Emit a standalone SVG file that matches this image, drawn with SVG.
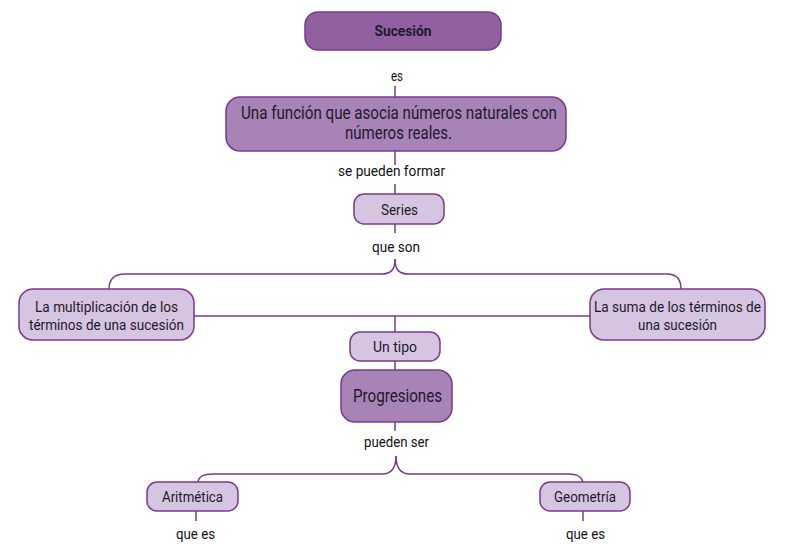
<svg xmlns="http://www.w3.org/2000/svg" width="789" height="544" viewBox="0 0 789 544">
<style>
.box{stroke:#7a3a8c;stroke-width:1.5}
.dark{fill:#9160a0}
.mid{fill:#a883b6}
.light{fill:#d6c5e0}
.t{font-family:Roboto,"Liberation Sans",sans-serif;fill:#1c1a2c;text-anchor:middle}
.lbl{font-family:Roboto,"Liberation Sans",sans-serif;fill:#111;text-anchor:middle;font-size:15px}
.c{fill:none;stroke:#7a3a8c;stroke-width:1.5}
</style>
<rect width="789" height="544" fill="#fff"/>
<g id="connectors">
<path class="c" d="M395,86 V98"/>
<path class="c" d="M395,151 V165"/>
<path class="c" d="M395,184 V194"/>
<path class="c" d="M395,224 V233"/>
<path class="c" d="M395,259 C395,270 391,274 381,274 H125 Q109,274 109,289"/>
<path class="c" d="M395,259 C395,270 399,274 409,274 H667 Q681,274 681,289"/>
<path class="c" d="M194,316 H590"/>
<path class="c" d="M395,316 V332"/>
<path class="c" d="M395,361 V370"/>
<path class="c" d="M395,422 V431"/>
<path class="c" d="M396,456 C396,468 392,474 382,474 H213 Q199,474 198,482"/>
<path class="c" d="M396,456 C396,468 400,474 410,474 H569 Q581,474 583,482"/>
<path class="c" d="M196,511 V521"/>
<path class="c" d="M583,511 V521"/>
</g>
<g id="n-sucesion">
<rect class="box dark" x="305" y="12" width="196" height="38" rx="13"/>
<text class="t" x="403" y="36" font-size="15" font-weight="bold" textLength="57" lengthAdjust="spacingAndGlyphs">Sucesión</text>
</g>
<g id="l-es"><text class="lbl" x="397" y="81" textLength="12" lengthAdjust="spacingAndGlyphs">es</text></g>
<g id="n-funcion">
<rect class="box mid" x="226" y="97" width="340" height="54" rx="14"/>
<text class="t" x="399" y="119" font-size="18" textLength="316" lengthAdjust="spacingAndGlyphs">Una función que asocia números naturales con</text>
<text class="t" x="398.5" y="139" font-size="18" textLength="107" lengthAdjust="spacingAndGlyphs">números reales.</text>
</g>
<g id="l-forman"><text class="lbl" x="391.5" y="176" textLength="107" lengthAdjust="spacingAndGlyphs">se pueden formar</text></g>
<g id="n-series">
<rect class="box light" x="354" y="194" width="90" height="30" rx="10"/>
<text class="t" x="399.5" y="215" font-size="15" textLength="37" lengthAdjust="spacingAndGlyphs">Series</text>
</g>
<g id="l-queson"><text class="lbl" x="396" y="252" textLength="48" lengthAdjust="spacingAndGlyphs">que son</text></g>
<g id="n-multiplicacion">
<rect class="box light" x="19" y="289" width="175" height="51" rx="14"/>
<text class="t" x="106.5" y="312" font-size="15.5" textLength="143" lengthAdjust="spacingAndGlyphs">La multiplicación de los</text>
<text class="t" x="106.5" y="330" font-size="15.5" textLength="155" lengthAdjust="spacingAndGlyphs">términos de una sucesión</text>
</g>
<g id="n-suma">
<rect class="box light" x="590" y="289" width="175" height="51" rx="14"/>
<text class="t" x="677.5" y="312" font-size="15.5" textLength="167" lengthAdjust="spacingAndGlyphs">La suma de los términos de</text>
<text class="t" x="677.5" y="330" font-size="15.5" textLength="79" lengthAdjust="spacingAndGlyphs">una sucesión</text>
</g>
<g id="n-untipo">
<rect class="box light" x="350" y="332" width="90" height="29" rx="10"/>
<text class="t" x="395" y="352" font-size="15.5" textLength="44" lengthAdjust="spacingAndGlyphs">Un tipo</text>
</g>
<g id="n-progresiones">
<rect class="box mid" x="341" y="370" width="111" height="52" rx="14"/>
<text class="t" x="397.5" y="402" font-size="19" textLength="89" lengthAdjust="spacingAndGlyphs">Progresiones</text>
</g>
<g id="l-puedenser"><text class="lbl" x="396.5" y="447" textLength="65" lengthAdjust="spacingAndGlyphs">pueden ser</text></g>
<g id="n-aritmetica">
<rect class="box light" x="147" y="482" width="91" height="29" rx="10"/>
<text class="t" x="192.5" y="502" font-size="15.5" textLength="61" lengthAdjust="spacingAndGlyphs">Aritmética</text>
</g>
<g id="n-geometria">
<rect class="box light" x="540" y="482" width="90" height="29" rx="10"/>
<text class="t" x="585" y="502" font-size="15.5" textLength="62" lengthAdjust="spacingAndGlyphs">Geometría</text>
</g>
<g id="l-quees1"><text class="lbl" x="195.5" y="539" textLength="39" lengthAdjust="spacingAndGlyphs">que es</text></g>
<g id="l-quees2"><text class="lbl" x="585.5" y="539" textLength="39" lengthAdjust="spacingAndGlyphs">que es</text></g>
</svg>
